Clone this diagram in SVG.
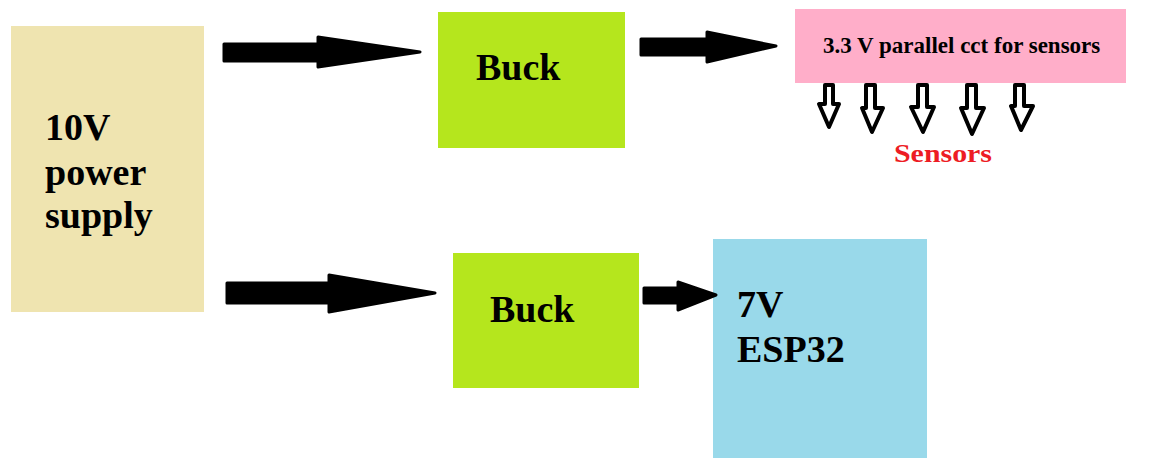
<svg xmlns="http://www.w3.org/2000/svg" width="1153" height="458" viewBox="0 0 1153 458">
  <style>
    .lbl { font-family: "Liberation Serif", "Times New Roman", serif; font-weight: bold; fill: #000; }
    .big { font-size: 38px; }
    .small { font-size: 23px; }
    .red { font-size: 25px; fill: #ED1C24; }
    .flow { fill: #000; stroke: #000; stroke-width: 3; stroke-linejoin: round; }
    .drop { fill: #fff; stroke: #000; stroke-width: 4; stroke-linejoin: round; }
  </style>
  <rect width="1153" height="458" fill="#fff"/>

  <g id="power-supply">
    <rect x="11" y="26" width="193" height="286" fill="#EFE4B0"/>
    <text class="lbl big" x="45" y="140">10V</text>
    <text class="lbl big" x="45" y="185">power</text>
    <text class="lbl big" x="45" y="228">supply</text>
  </g>

  <g id="buck-top">
    <rect x="438" y="12" width="187" height="136" fill="#B5E61D"/>
    <text class="lbl big" x="476" y="80">Buck</text>
  </g>

  <g id="buck-bottom">
    <rect x="453" y="253" width="186" height="135" fill="#B5E61D"/>
    <text class="lbl big" x="490" y="322">Buck</text>
  </g>

  <g id="sensor-rail">
    <rect x="795" y="9" width="331" height="74" fill="#FFAEC9"/>
    <text class="lbl small" x="823" y="53">3.3 V parallel cct for sensors</text>
  </g>

  <g id="esp32">
    <rect x="713" y="239" width="214" height="219" fill="#99D9EA"/>
    <text class="lbl big" x="737" y="317">7V</text>
    <text class="lbl big" x="737" y="362">ESP32</text>
  </g>

  <g id="sensors-label">
    <text class="lbl red" x="894" y="162" textLength="98" lengthAdjust="spacingAndGlyphs">Sensors</text>
  </g>

  <g id="connectors">
    <!-- supply to upper buck -->
    <path class="flow" d="M224,44 L318,44 L318,37 L420,52 L318,67 L318,61 L224,61 Z"/>
    <!-- upper buck to 3.3 V rail -->
    <path class="flow" d="M641,39 L707,39 L707,32 L776,46 L707,62 L707,55 L641,55 Z"/>
    <!-- supply to lower buck -->
    <path class="flow" d="M227,283 L329,283 L329,275 L435,293 L329,312 L329,303 L227,303 Z"/>
    <!-- lower buck to ESP32 -->
    <path class="flow" d="M644,288 L678,288 L678,282 L716,295 L678,310 L678,303 L644,303 Z"/>
    <!-- rail outputs to sensors -->
    <path class="drop" d="M825,85 L833,85 L833,104 L839,104 L829,127 L819,104 L825,104 Z"/>
    <path class="drop" d="M866,85 L875,85 L875,108 L883,108 L872,132 L862,108 L866,108 Z"/>
    <path class="drop" d="M918,85 L927,85 L927,107 L934,107 L923,132 L911,107 L918,107 Z"/>
    <path class="drop" d="M967,85 L976,85 L976,108 L984,108 L972,134 L961,108 L967,108 Z"/>
    <path class="drop" d="M1015,85 L1024,85 L1024,106 L1033,106 L1021,130 L1011,106 L1015,106 Z"/>
  </g>
</svg>
